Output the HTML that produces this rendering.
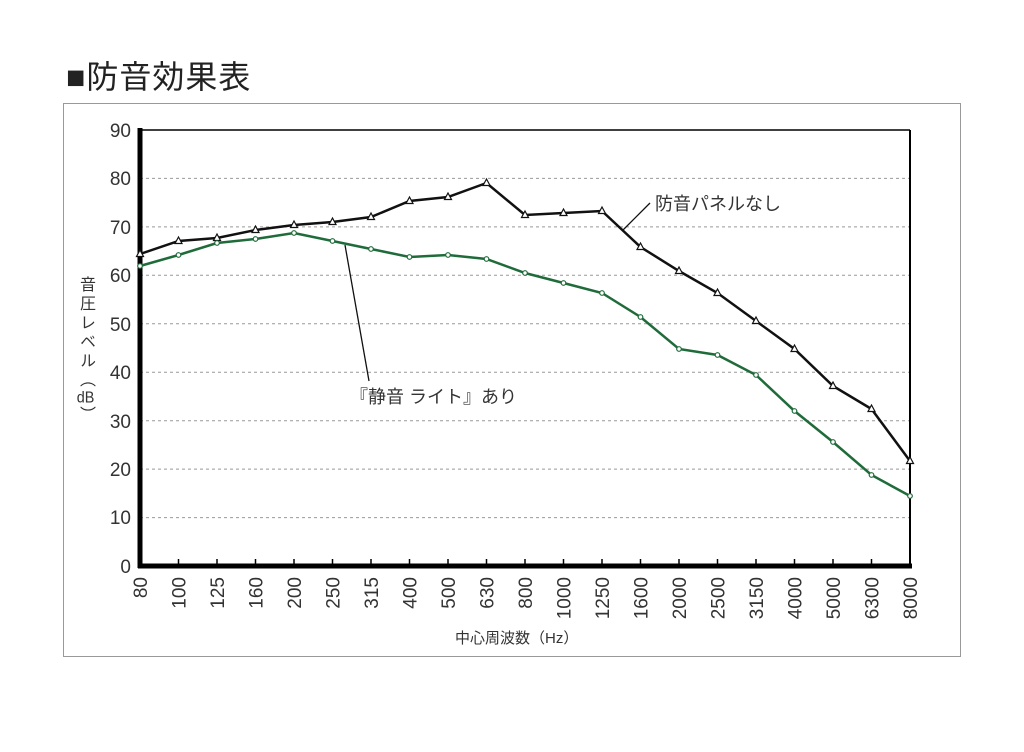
<!DOCTYPE html>
<html><head><meta charset="utf-8"><style>
body{margin:0;background:#fff;width:1024px;height:752px;overflow:hidden;position:relative;font-family:"Liberation Sans","Noto Sans CJK JP",sans-serif}
.title{position:absolute;left:66px;top:52px;font-size:32px;color:#222;letter-spacing:1px}
.frame{position:absolute;left:63px;top:103px;width:896px;height:552px;border:1px solid #999}
.ylab{position:absolute;left:73px;top:276px;writing-mode:vertical-rl;font-size:16px;color:#333;letter-spacing:3px}
.ylab span{text-combine-upright:all}
svg{position:absolute;left:0;top:0}
</style></head><body>
<div class="title">■防音効果表</div>
<div class="frame"></div>
<div class="ylab">音圧レベル（<span>dB</span>）</div>
<svg width="1024" height="752" font-family="Liberation Sans, Noto Sans CJK JP, sans-serif">
<g stroke="#999" stroke-dasharray="3,3" stroke-width="1">
<line x1="140" y1="178.4" x2="910" y2="178.4"/><line x1="140" y1="226.9" x2="910" y2="226.9"/>
<line x1="140" y1="275.3" x2="910" y2="275.3"/><line x1="140" y1="323.8" x2="910" y2="323.8"/>
<line x1="140" y1="372.2" x2="910" y2="372.2"/><line x1="140" y1="420.7" x2="910" y2="420.7"/>
<line x1="140" y1="469.1" x2="910" y2="469.1"/><line x1="140" y1="517.6" x2="910" y2="517.6"/>
</g>
<line x1="140" y1="130" x2="910" y2="130" stroke="#000" stroke-width="1.5"/>
<line x1="910" y1="130" x2="910" y2="566" stroke="#000" stroke-width="2"/>
<line x1="140" y1="128" x2="140" y2="568" stroke="#000" stroke-width="5"/>
<line x1="138" y1="566" x2="912" y2="566" stroke="#000" stroke-width="5"/>
<g stroke="#000" stroke-width="1.5" id="ticks"></g>
<g font-size="19" fill="#333" text-anchor="end">
<text x="131" y="137">90</text><text x="131" y="185">80</text><text x="131" y="234">70</text><text x="131" y="282">60</text><text x="131" y="331">50</text><text x="131" y="379">40</text><text x="131" y="428">30</text><text x="131" y="476">20</text><text x="131" y="524">10</text><text x="131" y="573">0</text>
</g>
<g id="xl" font-size="19" fill="#333" text-anchor="end"></g>
<text x="455" y="643" font-size="15" fill="#333">中心周波数（Hz）</text>
<polyline fill="none" stroke="#111" stroke-width="2.5" points="140,254 178.5,241 217,238 255.5,230 294,225 332.5,222 371,217 409.5,201 448,197 486.5,183 525,215 563.5,213 602,211 640.5,247 679,271 717.5,293 756,321 794.5,349 833,386 871.5,409 910,461"/>
<polyline fill="none" stroke="#1f6b3a" stroke-width="2.5" points="140,266 178.5,255 217,243 255.5,239 294,233 332.5,241 371,249 409.5,257 448,255 486.5,259 525,273 563.5,283 602,293 640.5,317 679,349 717.5,355 756,375 794.5,411 833,442 871.5,475 910,496"/>
<g id="mk"></g>
<line x1="650" y1="203" x2="622" y2="231" stroke="#111" stroke-width="1.3"/>
<line x1="345" y1="245" x2="369" y2="381" stroke="#111" stroke-width="1.3"/>
<text x="655" y="210" font-size="18" fill="#333">防音パネルなし</text>
<text x="350" y="403" font-size="18" fill="#333">『静音 ライト』あり</text>
</svg>
<script>
var xs=["80","100","125","160","200","250","315","400","500","630","800","1000","1250","1600","2000","2500","3150","4000","5000","6300","8000"];
var ns="http://www.w3.org/2000/svg";var xl=document.getElementById("xl"),tk=document.getElementById("ticks"),mk=document.getElementById("mk");
xs.forEach(function(s,i){var x=140+i*38.5;var t=document.createElementNS(ns,"text");t.setAttribute("transform","translate("+(x+7)+",577) rotate(-90)");t.textContent=s;xl.appendChild(t);
if(i>0&&i<20){var l=document.createElementNS(ns,"line");l.setAttribute("x1",x);l.setAttribute("x2",x);l.setAttribute("y1",559);l.setAttribute("y2",566);tk.appendChild(l);}});
var b=[254,241,238,230,225,222,217,201,197,183,215,213,211,247,271,293,321,349,386,409,461];
var g=[266,255,243,239,233,241,249,257,255,259,273,283,293,317,349,355,375,411,442,475,496];
b.forEach(function(y,i){var x=140+i*38.5;var p=document.createElementNS(ns,"polygon");p.setAttribute("points",(x)+","+(y-4)+" "+(x-3.5)+","+(y+2.5)+" "+(x+3.5)+","+(y+2.5));p.setAttribute("fill","#fff");p.setAttribute("stroke","#111");p.setAttribute("stroke-width","1.2");mk.appendChild(p);});
g.forEach(function(y,i){var x=140+i*38.5;var c=document.createElementNS(ns,"circle");c.setAttribute("cx",x);c.setAttribute("cy",y);c.setAttribute("r",2.3);c.setAttribute("fill","#fff");c.setAttribute("stroke","#1f6b3a");c.setAttribute("stroke-width","1.2");mk.appendChild(c);});
</script>
</body></html>
